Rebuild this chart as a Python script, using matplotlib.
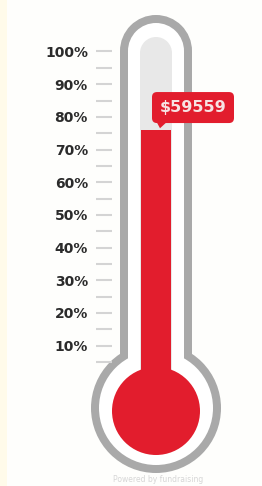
import matplotlib.pyplot as plt
from matplotlib.patches import Circle, Rectangle, FancyBboxPatch, Polygon

# values
raised_label = "$59559"
pct_filled = 76
tick_pct = [10, 20, 30, 40, 50, 60, 70, 80, 90, 100]
tick_labels = ["10%", "20%", "30%", "40%", "50%", "60%", "70%", "80%", "90%", "100%"]
minor_pct = [5, 15, 25, 35, 45, 55, 65, 75, 85, 95]

RED = '#e21d2d'
GRAY = '#a9a9a9'
LIGHT = '#e8e8e8'
PX_PER_PCT = 3.267
ZERO_PX = 378.2

fig = plt.figure(figsize=(2.62, 4.86), dpi=100)
fig.patch.set_facecolor('#fefefc')

# background axes in pixel units for the glass body
bg = fig.add_axes([0, 0, 1, 1])
bg.set_xlim(0, 262)
bg.set_ylim(486, 0)
bg.axis('off')
bg.add_patch(Rectangle((0, 0), 7, 486, fc='#fffbea', ec='none'))

cx = 156
# outer gray shape: tube with round top + bulb
bg.add_patch(Rectangle((cx - 36, 51), 72, 320, fc=GRAY, ec='none'))
bg.add_patch(Circle((cx, 51), 36, fc=GRAY, ec='none'))
bg.add_patch(Circle((cx, 408), 65, fc=GRAY, ec='none'))
# inner white shape
bg.add_patch(Rectangle((cx - 28, 51), 56, 330, fc='white', ec='none'))
bg.add_patch(Circle((cx, 51), 28, fc='white', ec='none'))
bg.add_patch(Circle((cx, 408), 57, fc='white', ec='none'))
# empty column
bg.add_patch(Rectangle((cx - 16, 53), 32, 330, fc=LIGHT, ec='none'))
bg.add_patch(Circle((cx, 53), 16, fc=LIGHT, ec='none'))
# bulb
bg.add_patch(Circle((cx, 411), 44, fc=RED, ec='none'))

# data axes: y in percent
ax = fig.add_axes([0, 0, 1, 1])
ax.patch.set_alpha(0)
ax.set_xlim(0, 262)
ax.set_ylim(-(486 - ZERO_PX) / PX_PER_PCT, ZERO_PX / PX_PER_PCT)

base = -10
ax.bar(cx, pct_filled - base, bottom=base, width=30, color=RED, zorder=3)

for s in ['top', 'right', 'bottom']:
    ax.spines[s].set_visible(False)
ax.spines['left'].set_position(('data', 112))
ax.spines['left'].set_color('none')
ax.set_xticks([])
ax.set_yticks(tick_pct)
ax.set_yticklabels(tick_labels)
ax.set_yticks(minor_pct, minor=True)
ax.tick_params(axis='y', which='both', direction='out', length=11.5, width=1.5,
               color='#d4d4d4', pad=5.8)
for lab in ax.get_yticklabels():
    lab.set_fontweight('bold')
    lab.set_fontsize(10)
    lab.set_color('#2b2b2b')

# value bubble
box_y = pct_filled + 2.1
box_h = 31 / PX_PER_PCT
ax.add_patch(FancyBboxPatch((152, box_y), 82, box_h,
                            boxstyle='round,pad=0,rounding_size=5',
                            mutation_aspect=1 / PX_PER_PCT,
                            fc=RED, ec='none', zorder=4))
ax.add_patch(Polygon([(157, box_y + 0.1), (166, box_y + 0.1), (160, pct_filled + 0.5)],
                     closed=True, fc=RED, ec='none', zorder=4))
ax.text(193, box_y + box_h / 2, raised_label, ha='center', va='center',
        fontsize=11.5, fontweight='bold', color='#f7e3e3', zorder=5)

ax.text(158, -30.9, "Powered by fundraising", ha='center', va='center',
        fontsize=5.5, color='#d6d6d6')

fig.savefig('out.png', dpi=100, facecolor=fig.get_facecolor())
